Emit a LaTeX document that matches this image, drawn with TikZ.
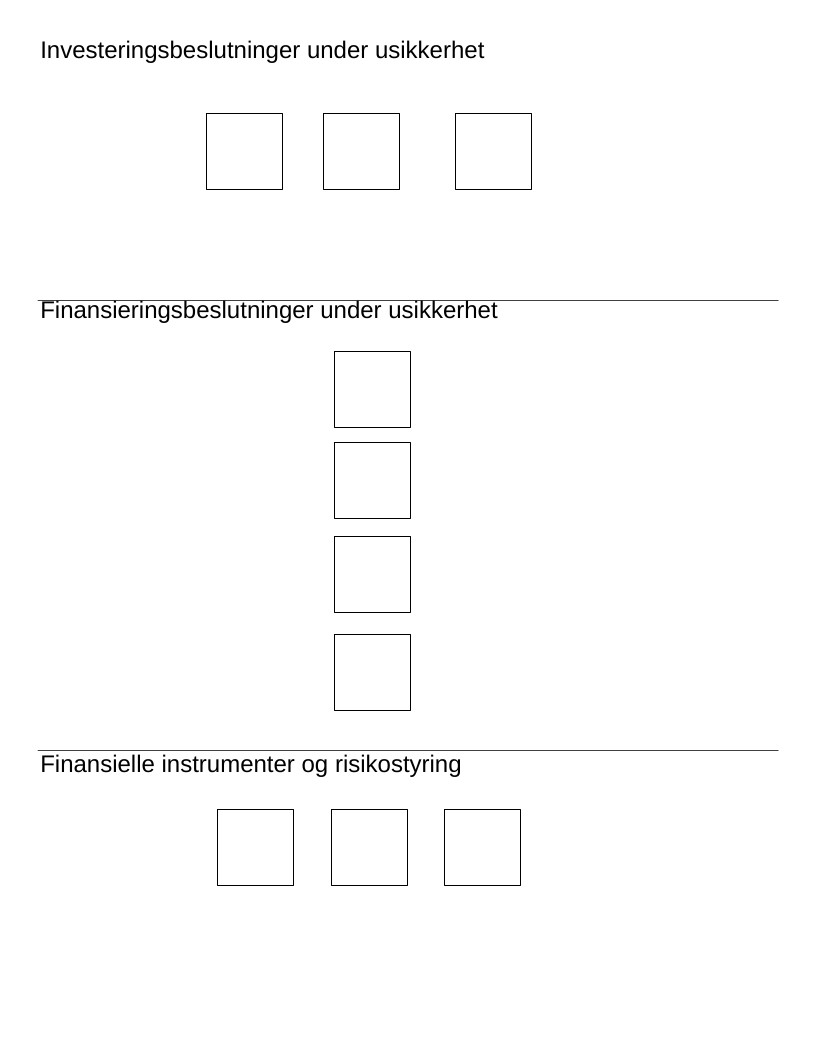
\documentclass[tikz,border=0pt]{standalone}
\usepackage{fontspec}
\setmainfont{Liberation Sans}
\begin{document}
\begin{tikzpicture}[x=0.75pt, y=-0.75pt, line join=round, line cap=round,
  box/.style={draw, line width=0.6pt, minimum size=57pt, inner sep=0pt},
  heading/.style={anchor=base west, inner sep=0pt, font=\fontsize{18}{21}\selectfont},
  divider/.style={draw=black!75, line width=0.75pt}]
	\useasboundingbox (0,0) rectangle (816,1056);
	\node[heading] (inv) at (40,59) {Investeringsbeslutninger under usikkerhet};
	\foreach \n/\x in {1/244,2/361,3/493}
	\node[box] (i\n) at (\x,151) {};
	\coordinate (d1a) at (38,300);
	\coordinate (d1b) at (778,300);
	\draw[divider] (d1a)--(d1b);
	\node[heading] (fin) at (40,318) {Finansieringsbeslutninger under usikkerhet};
	\foreach \n/\y in {1/389,2/480,3/574,4/672}
	\node[box] (f\n) at (372,\y) {};
	\coordinate (d2a) at (38,750);
	\coordinate (d2b) at (778,750);
	\draw[divider] (d2a)--(d2b);
	\node[heading] (ris) at (40,772) {Finansielle instrumenter og risikostyring};
	\foreach \n/\x in {1/255,2/369,3/482}
	\node[box] (r\n) at (\x,847) {};
\end{tikzpicture}
\end{document}
